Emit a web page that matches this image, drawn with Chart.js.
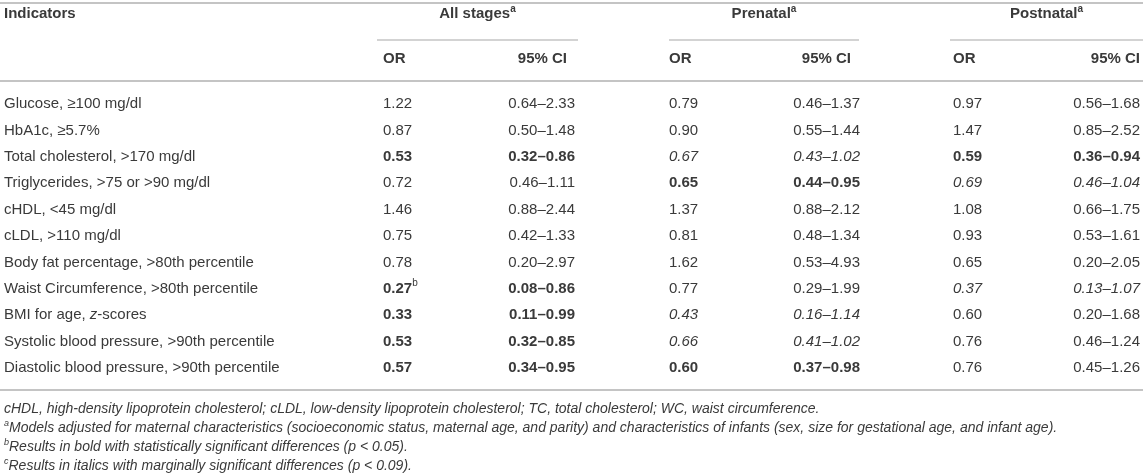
<!DOCTYPE html>
<html>
<head>
<meta charset="utf-8">
<script src="https://cdn.jsdelivr.net/npm/chart.js@4.4.1/dist/chart.umd.min.js"></script>
<style>
  html, body { margin: 0; padding: 0; background: #fff; }
  #wrap { width: 1143px; height: 476px; position: relative; }
</style>
</head>
<body>
<div id="wrap"><canvas id="tbl"></canvas></div>
<script>
const fam = '"Liberation Sans", Arial, Helvetica, sans-serif';
const textColor = '#3a3a3a';
const ruleColor = '#c4c4c4';

// rows (underscores mark italic letters)
const indicators = [
  'Glucose, ≥100 mg/dl',
  'HbA1c, ≥5.7%',
  'Total cholesterol, >170 mg/dl',
  'Triglycerides, >75 or >90 mg/dl',
  'cHDL, <45 mg/dl',
  'cLDL, >110 mg/dl',
  'Body fat percentage, >80th percentile',
  'Waist Circumference, >80th percentile',
  'BMI for age, _z_-scores',
  'Systolic blood pressure, >90th percentile',
  'Diastolic blood pressure, >90th percentile'
];
const rowLabels = indicators.map(s => s.replace(/_/g, ''));

const groups = ['All stages', 'Prenatal', 'Postnatal'];
const subHeads = ['OR', '95% CI'];

const allOR  = ['1.22', '0.87', '0.53', '0.72', '1.46', '0.75', '0.78', '0.27', '0.33', '0.53', '0.57'];
const allCI  = ['0.64–2.33', '0.50–1.48', '0.32–0.86', '0.46–1.11', '0.88–2.44', '0.42–1.33', '0.20–2.97', '0.08–0.86', '0.11–0.99', '0.32–0.85', '0.34–0.95'];
const preOR  = ['0.79', '0.90', '0.67', '0.65', '1.37', '0.81', '1.62', '0.77', '0.43', '0.66', '0.60'];
const preCI  = ['0.46–1.37', '0.55–1.44', '0.43–1.02', '0.44–0.95', '0.88–2.12', '0.48–1.34', '0.53–4.93', '0.29–1.99', '0.16–1.14', '0.41–1.02', '0.37–0.98'];
const postOR = ['0.97', '1.47', '0.59', '0.69', '1.08', '0.93', '0.65', '0.37', '0.60', '0.76', '0.76'];
const postCI = ['0.56–1.68', '0.85–2.52', '0.36–0.94', '0.46–1.04', '0.66–1.75', '0.53–1.61', '0.20–2.05', '0.13–1.07', '0.20–1.68', '0.46–1.24', '0.45–1.26'];

// b = significant (bold), i = marginal (italic)
const allSig  = ['', '', 'b', '', '', '', '', 'b', 'b', 'b', 'b'];
const preSig  = ['', '', 'i', 'b', '', '', '', '', 'i', 'i', 'b'];
const postSig = ['', '', 'b', 'i', '', '', '', 'i', '', '', ''];
const allORNote = ['', '', '', '', '', '', '', 'b', '', '', ''];

const footnotes = [
  [{ t: 'cHDL, high-density lipoprotein cholesterol; cLDL, low-density lipoprotein cholesterol; TC, total cholesterol; WC, waist circumference.', i: true }],
  [{ t: 'a', sup: true, i: true }, { t: 'Models adjusted for maternal characteristics (socioeconomic status, maternal age, and parity) and characteristics of infants (sex, size for gestational age, and infant age).', i: true }],
  [{ t: 'b', sup: true, i: true }, { t: 'Results in bold with statistically significant differences (p < 0.05).', i: true }],
  [{ t: 'c', sup: true, i: true }, { t: 'Results in italics with marginally significant differences (p < 0.09).', i: true }]
];

// layout (x in page pixels)
const groupSpans = [[377, 578], [669, 859], [950, 1143]];
const orX = [383, 669, 953];
const ciX = [575, 860, 1140];
const ciHeadX = [567, 851, 1140];
const FS = 15;

function fontOf(r, size) {
  return (r.i ? 'italic ' : '') + (r.b ? 'bold ' : '') + (r.sup ? Math.round(size * 0.66) : size) + 'px ' + fam;
}

function drawRuns(ctx, runs, x, y, align, size, color) {
  let w = 0;
  runs.forEach(r => { ctx.font = fontOf(r, size); r.w = ctx.measureText(r.t).width; w += r.w; });
  let cx = align === 'right' ? x - w : align === 'center' ? x - w / 2 : x;
  runs.forEach(r => {
    ctx.font = fontOf(r, size);
    ctx.fillStyle = color || textColor;
    ctx.textAlign = 'left';
    ctx.fillText(r.t, cx, r.sup ? y - size * 0.35 : y);
    cx += r.w;
  });
}

function labelRuns(s) {
  return s.split('_').map((p, k) => ({ t: p, i: k % 2 === 1 })).filter(r => r.t.length);
}

function cellRuns(text, sig, note) {
  const runs = [{ t: text, b: sig === 'b', i: sig === 'i' }];
  if (note) runs.push({ t: note, sup: true });
  return runs;
}

function column(texts, sig, notes, anchor, align) {
  return {
    data: rowLabels.map(r => ({ x: anchor, y: r })),
    cells: texts.map((t, i) => cellRuns(t, sig ? sig[i] : '', notes ? notes[i] : '')),
    align,
    pointRadius: 0,
  };
}

const datasets = [
  { data: rowLabels.map(r => ({ x: 4, y: r })), cells: indicators.map(labelRuns), align: 'left', pointRadius: 0 },
  column(allOR, allSig, allORNote, orX[0], 'left'),
  column(allCI, allSig, null, ciX[0], 'right'),
  column(preOR, preSig, null, orX[1], 'left'),
  column(preCI, preSig, null, ciX[1], 'right'),
  column(postOR, postSig, null, orX[2], 'left'),
  column(postCI, postSig, null, ciX[2], 'right'),
];

const tablePlugin = {
  id: 'table',
  afterDatasetsDraw(chart) {
    const { ctx, chartArea: a, scales: { x } } = chart;
    const px = v => x.getPixelForValue(v);
    const rule = (x0, x1, y, lw) => {
      ctx.strokeStyle = ruleColor;
      ctx.lineWidth = lw;
      ctx.beginPath();
      ctx.moveTo(px(x0), y);
      ctx.lineTo(px(x1), y);
      ctx.stroke();
    };
    ctx.save();
    ctx.textBaseline = 'middle';

    rule(0, 1143, a.top - 88, 2);
    groupSpans.forEach(s => rule(s[0], s[1], a.top - 51, 1.5));
    rule(0, 1143, a.top - 10, 2);
    rule(0, 1143, a.bottom + 9, 2);

    drawRuns(ctx, [{ t: 'Indicators', b: true }], px(4), a.top - 77, 'left', FS);
    groups.forEach((g, k) => {
      const mid = (groupSpans[k][0] + groupSpans[k][1]) / 2;
      drawRuns(ctx, [{ t: g, b: true }, { t: 'a', sup: true, b: true }], px(mid), a.top - 77, 'center', FS);
      drawRuns(ctx, [{ t: subHeads[0], b: true }], px(orX[k]), a.top - 32, 'left', FS);
      drawRuns(ctx, [{ t: subHeads[1], b: true }], px(ciHeadX[k]), a.top - 32, 'right', FS);
    });

    chart.data.datasets.forEach((ds, di) => {
      chart.getDatasetMeta(di).data.forEach((pt, i) => {
        drawRuns(ctx, ds.cells[i], pt.x, pt.y, ds.align, FS);
      });
    });

    footnotes.forEach((runs, k) => {
      drawRuns(ctx, runs, px(4), a.bottom + 28 + k * 19, 'left', 14);
    });
    ctx.restore();
  }
};

new Chart(document.getElementById('tbl'), {
  type: 'scatter',
  data: { datasets },
  plugins: [tablePlugin],
  options: {
    responsive: true,
    maintainAspectRatio: false,
    animation: false,
    layout: { padding: { left: 0, right: 0, top: 91, bottom: 95 } },
    plugins: { legend: { display: false }, tooltip: { enabled: false } },
    scales: {
      x: { type: 'linear', min: 0, max: 1143, display: false },
      y: { type: 'category', labels: rowLabels, offset: true, display: false },
    },
  },
});
</script>
</body>
</html>
